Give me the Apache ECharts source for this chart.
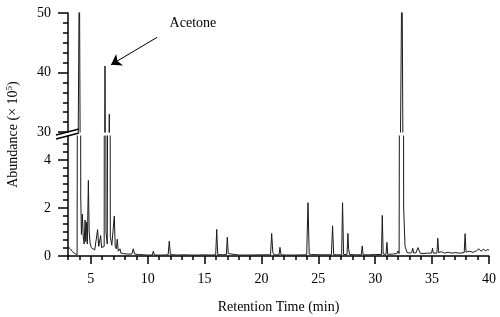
<!DOCTYPE html>
<html>
<head>
<meta charset="utf-8">
<script src="https://cdn.jsdelivr.net/npm/echarts@6/dist/echarts.min.js"></script>
<style>
  html, body { margin: 0; padding: 0; background: #fff; }
  #main { width: 500px; height: 317px; }
</style>
</head>
<body>
<div id="main"></div>
<script>
// chromatogram trace
var retentionTime = [
  3.0, 3.2, 3.4, 3.6, 3.8, 3.92,
  4.0, 4.12, 4.18, 4.26, 4.34, 4.42, 4.5, 4.56, 4.62, 4.7, 4.79, 4.86, 4.95,
  5.05, 5.2, 5.35, 5.45, 5.6, 5.7, 5.8, 5.87, 5.95,
  6.1, 6.18, 6.25, 6.34, 6.45, 6.55, 6.63, 6.72, 6.85, 6.98,
  7.07, 7.15, 7.25, 7.33, 7.42, 7.5, 7.57, 7.65, 7.9,
  8.2, 8.6, 8.74, 8.85, 9.2, 9.6, 10.0, 10.4, 10.5, 10.6,
  11.2, 11.8, 11.9, 12.0, 12.3, 12.6, 13.2, 13.8,
  14.6, 14.75, 14.9, 15.6, 15.98, 16.07, 16.16, 16.6, 16.92, 17.0, 17.08, 17.2,
  18.0, 19.0, 20.0, 20.8, 20.9, 21.0, 21.1, 21.55, 21.63, 21.72,
  22.2, 22.27, 22.35, 23.0, 23.98, 24.09, 24.2, 24.4, 24.45, 24.55,
  25.2, 26.15, 26.25, 26.35, 26.6, 27.05, 27.13, 27.22, 27.52, 27.6, 27.66, 27.75,
  28.3, 28.78, 28.86, 28.94, 29.5, 30.0, 30.55, 30.62, 30.7, 30.95, 31.03, 31.1,
  31.5, 31.9, 32.0, 32.1, 32.25, 32.35, 32.5, 32.62, 32.8,
  33.0, 33.2, 33.3, 33.38, 33.6, 33.75, 33.8, 33.85, 33.95,
  34.2, 34.6, 34.95, 35.04, 35.1, 35.42, 35.5, 35.58, 35.8,
  36.1, 36.4, 36.7, 37.0, 37.4, 37.82, 37.9, 37.98,
  38.3, 38.6, 38.9, 39.1, 39.3, 39.5, 39.7, 39.9, 40.0
];
var abundance = [
  0.38, 0.3, 0.18, 0.1, 0.06, 0.05,
  60, 2.5, 0.9, 1.75, 0.8, 0.5, 1.5, 0.6, 1.4, 0.5, 3.15, 1.0, 0.5,
  0.35, 0.3, 0.25, 0.3, 1.1, 0.4, 0.35, 0.85, 0.35,
  0.3, 0.4, 41.1, 1.0, 0.5, 0.45, 33.0, 0.8, 0.45, 0.4,
  1.67, 0.4, 0.3, 0.7, 0.2, 0.15, 0.3, 0.12, 0.1,
  0.08, 0.08, 0.3, 0.08, 0.06, 0.05, 0.04, 0.04, 0.2, 0.04,
  0.04, 0.05, 0.62, 0.06, 0.05, 0.04, 0.05, 0.04,
  0.04, 0.12, 0.05, 0.04, 0.05, 1.11, 0.06, 0.05, 0.06, 0.78, 0.1, 0.05,
  0.04, 0.04, 0.05, 0.05, 0.94, 0.15, 0.05, 0.05, 0.36, 0.05,
  0.04, 0.08, 0.04, 0.04, 0.05, 2.22, 0.08, 0.06, 0.13, 0.05,
  0.05, 0.05, 1.26, 0.06, 0.05, 0.05, 2.22, 0.06, 0.06, 0.94, 0.3, 0.06,
  0.05, 0.05, 0.42, 0.05, 0.05, 0.06, 0.06, 1.69, 0.08, 0.07, 0.57, 0.07,
  0.08, 0.1, 0.21, 0.1, 0.15, 60, 2.0, 0.4, 0.15,
  0.12, 0.14, 0.32, 0.12, 0.14, 0.35, 0.28, 0.38, 0.12,
  0.1, 0.12, 0.12, 0.33, 0.12, 0.12, 0.74, 0.14, 0.18,
  0.12, 0.16, 0.12, 0.14, 0.12, 0.14, 0.93, 0.16,
  0.2, 0.15, 0.22, 0.3, 0.2, 0.28, 0.22, 0.27, 0.24
];
var xTickLabels = [5, 10, 15, 20, 25, 30, 35, 40];
// minor tick positions on the two y axis pieces (6 per labelled step)
var upperMinor = [31.67, 33.33, 35, 36.67, 38.33, 41.67, 43.33, 45, 46.67, 48.33];
var lowerMinor = [0.33, 0.67, 1, 1.33, 1.67, 2.33, 2.67, 3, 3.33, 3.67, 4.33, 4.67];

var FONT = 'Liberation Serif';
var L = 68, R = 11;          // plot left / right margins
var UP_TOP = 13, UP_BOT = 132, LO_TOP = 136, LO_BOT = 256;

var trace = retentionTime.map(function (t, i) { return [t, abundance[i]]; });

var chart = echarts.init(document.getElementById('main'));

var black = { color: '#000', width: 1.5 };
var yLabel = { color: '#000', fontFamily: FONT, fontSize: 14, margin: 17 };

function minorAxis(gridIndex, min, max, values) {
  return {
    gridIndex: gridIndex, type: 'value', min: min, max: max, position: 'left',
    axisLine: { show: false },
    axisTick: { show: true, length: 5, customValues: values, lineStyle: black },
    axisLabel: { show: false },
    splitLine: { show: false }
  };
}

var option = {
  animation: false,
  grid: [
    { left: L, right: R, top: UP_TOP, height: UP_BOT - UP_TOP },
    { left: L, right: R, top: LO_TOP, height: LO_BOT - LO_TOP }
  ],
  xAxis: [
    { gridIndex: 0, type: 'value', min: 3, max: 40, show: false },
    {
      gridIndex: 1, type: 'value', min: 3, max: 40, interval: 1,
      axisLine: { show: true, lineStyle: black },
      axisTick: { show: true, length: 4, lineStyle: black },
      axisLabel: {
        color: '#000', fontFamily: FONT, fontSize: 14, margin: 16,
        formatter: function (v) { return xTickLabels.indexOf(v) >= 0 ? String(v) : ''; }
      },
      splitLine: { show: false },
      name: 'Retention Time (min)', nameLocation: 'middle', nameGap: 44,
      nameTextStyle: { color: '#000', fontFamily: FONT, fontSize: 14 }
    },
    {
      // long ticks at the labelled positions
      gridIndex: 1, type: 'value', min: 3, max: 40, position: 'bottom',
      axisLine: { show: false },
      axisTick: { show: true, length: 8, customValues: xTickLabels, lineStyle: black },
      axisLabel: { show: false },
      splitLine: { show: false }
    }
  ],
  yAxis: [
    {
      gridIndex: 0, type: 'value', min: 30, max: 50, interval: 10,
      axisLine: { show: true, lineStyle: black },
      axisTick: { show: true, length: 10, lineStyle: black },
      axisLabel: yLabel,
      splitLine: { show: false }
    },
    {
      gridIndex: 1, type: 'value', min: 0, max: 5, interval: 2,
      axisLine: { show: true, lineStyle: black },
      axisTick: { show: true, length: 10, customValues: [0, 2, 4], lineStyle: black },
      axisLabel: Object.assign({ showMaxLabel: false }, yLabel),
      splitLine: { show: false }
    },
    minorAxis(0, 30, 50, upperMinor),
    minorAxis(1, 0, 5, lowerMinor)
  ],
  series: [
    {
      type: 'line', xAxisIndex: 0, yAxisIndex: 0, data: trace,
      showSymbol: false, clip: true,
      lineStyle: { color: '#1a1a1a', width: 1 },
      markLine: {
        silent: true, symbol: ['none', 'arrow'], symbolSize: 10,
        label: { show: false },
        lineStyle: { color: '#000', width: 1, type: 'solid' },
        data: [[{ coord: [10.82, 45.9] }, { coord: [6.78, 41.3] }]]
      },
      markPoint: {
        silent: true, symbol: 'rect', symbolSize: 0,
        label: { show: true, position: 'inside', color: '#000', fontFamily: FONT, fontSize: 14, formatter: 'Acetone' },
        data: [{ coord: [13.98, 48.2] }]
      }
    },
    {
      type: 'line', xAxisIndex: 1, yAxisIndex: 1, data: trace,
      showSymbol: false, clip: true,
      lineStyle: { color: '#1a1a1a', width: 1 }
    }
  ],
  graphic: [
    {
      type: 'text', x: 13, y: (UP_TOP + LO_BOT) / 2, rotation: Math.PI / 2,
      style: {
        text: 'Abundance (× 10{sup|5})', fill: '#000', font: '14px ' + FONT,
        align: 'center', verticalAlign: 'middle',
        rich: { sup: { fontSize: 9, fontFamily: FONT, verticalAlign: 'top', padding: [0, 0, 7, 0] } }
      }
    },
    // axis break marks
    { type: 'line', shape: { x1: L - 12, y1: UP_BOT + 3, x2: L + 11, y2: UP_BOT - 3 }, style: { stroke: '#000', lineWidth: 1.5 } },
    { type: 'line', shape: { x1: L - 12, y1: LO_TOP + 3, x2: L + 11, y2: LO_TOP - 3 }, style: { stroke: '#000', lineWidth: 1.5 } }
  ]
};

chart.setOption(option);
</script>
</body>
</html>
